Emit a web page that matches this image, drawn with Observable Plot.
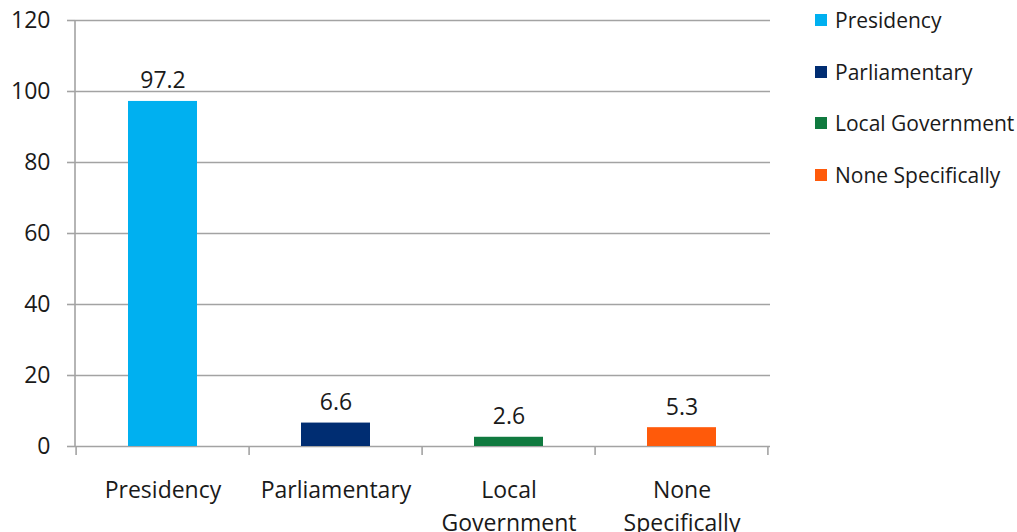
<!DOCTYPE html>
<html>
<head>
<meta charset="utf-8">
<script src="https://cdn.jsdelivr.net/npm/d3@7"></script>
<script src="https://cdn.jsdelivr.net/npm/@observablehq/plot@0.6"></script>
<style>
  html, body { margin: 0; padding: 0; background: #fff; }
  #wrap { position: relative; width: 1017px; height: 532px; overflow: hidden; font-family: "Open Sans", sans-serif; }
  #legend { position: absolute; left: 815px; top: -6px; }
  .item { display: flex; align-items: center; height: 51.7px; font-size: 21px; color: #1a1a1a; }
  .sw { width: 12px; height: 12px; margin-right: 8px; }
</style>
</head>
<body>
<div id="wrap"></div>
<script>
const categories = ["Presidency", "Parliamentary", "Local Government", "None Specifically"];
const axisLabels = ["Presidency", "Parliamentary", "Local\nGovernment", "None\nSpecifically"];
const values = [97.2, 6.6, 2.6, 5.3];
const colors = ["#00b0f0", "#002d72", "#107a3f", "#ff5a0a"];
const yTicks = [0, 20, 40, 60, 80, 100, 120];

const data = categories.map((c, i) => ({category: c, value: values[i], label: axisLabels[i]}));

const gridColor = "#a3a3a3";

const axisLines = (index, scales, values, dims) => {
  const x = scales.x;
  const step = x.step ? x.step() : x.bandwidth();
  const inner = x.paddingInner ? x.paddingInner() : 0;
  const y0 = dims.height - dims.marginBottom;
  const g = d3.create("svg:g").attr("stroke", gridColor).attr("stroke-width", 1.6);
  g.append("line")
    .attr("x1", dims.marginLeft).attr("x2", dims.marginLeft)
    .attr("y1", dims.marginTop).attr("y2", y0);
  const dom = x.domain();
  const edges = dom.map(d => x(d) - step * inner / 2);
  edges.push(x(dom[dom.length - 1]) + x.bandwidth() + step * inner / 2);
  for (const e of edges) {
    g.append("line").attr("x1", e).attr("x2", e).attr("y1", y0).attr("y2", y0 + 9);
  }
  return g.node();
};

const chart = Plot.plot({
  width: 1017,
  height: 532,
  marginLeft: 75,
  marginRight: 247,
  marginTop: 20,
  marginBottom: 86,
  style: {fontFamily: "Open Sans, sans-serif", fontSize: "23px", color: "#1a1a1a", background: "#fff"},
  x: {domain: categories, paddingInner: 0.6, paddingOuter: 0.3, label: null},
  y: {domain: [0, 120], label: null},
  color: {domain: categories, range: colors},
  marks: [
    Plot.ruleY(yTicks, {stroke: gridColor, strokeWidth: 1.6}),
    Plot.axisY({ticks: yTicks, tickSize: 8, tickPadding: 17, stroke: gridColor, strokeWidth: 1.6, fontSize: 23, fill: "#1a1a1a", label: null}),
    axisLines,
    Plot.barY(data, {x: "category", y: "value", fill: "category"}),
    Plot.text(data, {x: "category", y: "value", text: d => d.value.toFixed(1), dy: -13, lineAnchor: "bottom", fontSize: 23, fill: "#1a1a1a"}),
    Plot.axisX({tickSize: 0, tickPadding: 29, tickFormat: d => axisLabels[categories.indexOf(d)], lineHeight: 1.4, fontSize: 23, fill: "#1a1a1a", label: null})
  ]
});

const wrap = document.getElementById("wrap");
wrap.appendChild(chart);

const legend = document.createElement("div");
legend.id = "legend";
categories.forEach((c, i) => {
  const it = document.createElement("div");
  it.className = "item";
  const sw = document.createElement("div");
  sw.className = "sw";
  sw.style.background = colors[i];
  const t = document.createElement("span");
  t.textContent = c;
  it.appendChild(sw);
  it.appendChild(t);
  legend.appendChild(it);
});
wrap.appendChild(legend);
</script>
</body>
</html>
